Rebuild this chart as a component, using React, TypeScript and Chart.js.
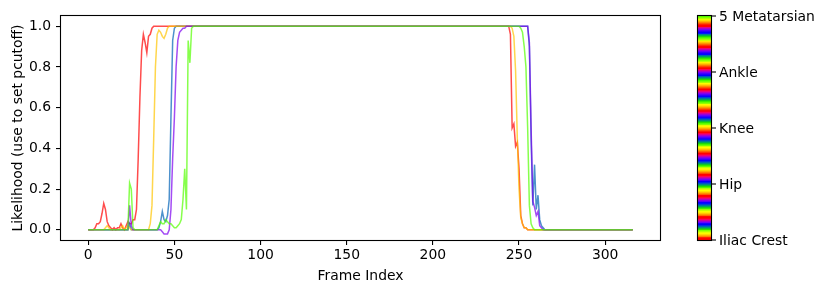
import React, { useEffect, useRef } from 'react';
import { Chart, registerables } from 'chart.js';

Chart.register(...registerables);

const bodyparts = ['Iliac Crest', 'Hip', 'Knee', 'Ankle', '5 Metatarsian'];
const xTickValues = [0, 50, 100, 150, 200, 250, 300];
const yTickValues = [0, 0.2, 0.4, 0.6, 0.8, 1.0];

const iliacCrest = [
  0, 0, 0, 0, 0.01, 0.03, 0.03, 0.04, 0.08, 0.13, 0.1, 0.04, 0.02, 0.01, 0, 0.01, 0, 0.01, 0.01, 0.03,
  0.01, 0, 0.02, 0.04, 0.03, 0.03, 0.05, 0.05, 0.1, 0.35, 0.65, 0.88, 0.96, 0.92, 0.87, 0.95, 0.96, 0.99, 1, 1,
  1, 1, 1, 1, 1, 1, 1, 1, 1, 1, 1, 1, 1, 1, 1, 1, 1, 1, 1, 1,
  1, 1, 1, 1, 1, 1, 1, 1, 1, 1, 1, 1, 1, 1, 1, 1, 1, 1, 1, 1,
  1, 1, 1, 1, 1, 1, 1, 1, 1, 1, 1, 1, 1, 1, 1, 1, 1, 1, 1, 1,
  1, 1, 1, 1, 1, 1, 1, 1, 1, 1, 1, 1, 1, 1, 1, 1, 1, 1, 1, 1,
  1, 1, 1, 1, 1, 1, 1, 1, 1, 1, 1, 1, 1, 1, 1, 1, 1, 1, 1, 1,
  1, 1, 1, 1, 1, 1, 1, 1, 1, 1, 1, 1, 1, 1, 1, 1, 1, 1, 1, 1,
  1, 1, 1, 1, 1, 1, 1, 1, 1, 1, 1, 1, 1, 1, 1, 1, 1, 1, 1, 1,
  1, 1, 1, 1, 1, 1, 1, 1, 1, 1, 1, 1, 1, 1, 1, 1, 1, 1, 1, 1,
  1, 1, 1, 1, 1, 1, 1, 1, 1, 1, 1, 1, 1, 1, 1, 1, 1, 1, 1, 1,
  1, 1, 1, 1, 1, 1, 1, 1, 1, 1, 1, 1, 1, 1, 1, 1, 1, 1, 1, 1,
  1, 1, 1, 1, 1, 0.96, 0.5, 0.52, 0.41, 0.43, 0.3, 0.07, 0.03, 0.01, 0.01, 0, 0, 0, 0, 0,
  0, 0, 0, 0, 0, 0, 0, 0, 0, 0, 0, 0, 0, 0, 0, 0, 0, 0, 0, 0,
  0, 0, 0, 0, 0, 0, 0, 0, 0, 0, 0, 0, 0, 0, 0, 0, 0, 0, 0, 0,
  0, 0, 0, 0, 0, 0, 0, 0, 0, 0, 0, 0, 0, 0, 0, 0, 0,
];

const hip = [
  0, 0, 0, 0, 0, 0, 0, 0, 0, 0, 0, 0, 0, 0, 0, 0, 0, 0, 0, 0,
  0, 0, 0, 0, 0.03, 0, 0, 0, 0, 0, 0, 0, 0, 0, 0, 0, 0, 0, 0, 0,
  0, 0.01, 0.04, 0.09, 0.05, 0.04, 0.07, 0.15, 0.55, 0.93, 0.99, 1, 1, 1, 1, 1, 1, 1, 1, 1,
  1, 1, 1, 1, 1, 1, 1, 1, 1, 1, 1, 1, 1, 1, 1, 1, 1, 1, 1, 1,
  1, 1, 1, 1, 1, 1, 1, 1, 1, 1, 1, 1, 1, 1, 1, 1, 1, 1, 1, 1,
  1, 1, 1, 1, 1, 1, 1, 1, 1, 1, 1, 1, 1, 1, 1, 1, 1, 1, 1, 1,
  1, 1, 1, 1, 1, 1, 1, 1, 1, 1, 1, 1, 1, 1, 1, 1, 1, 1, 1, 1,
  1, 1, 1, 1, 1, 1, 1, 1, 1, 1, 1, 1, 1, 1, 1, 1, 1, 1, 1, 1,
  1, 1, 1, 1, 1, 1, 1, 1, 1, 1, 1, 1, 1, 1, 1, 1, 1, 1, 1, 1,
  1, 1, 1, 1, 1, 1, 1, 1, 1, 1, 1, 1, 1, 1, 1, 1, 1, 1, 1, 1,
  1, 1, 1, 1, 1, 1, 1, 1, 1, 1, 1, 1, 1, 1, 1, 1, 1, 1, 1, 1,
  1, 1, 1, 1, 1, 1, 1, 1, 1, 1, 1, 1, 1, 1, 1, 1, 1, 1, 1, 1,
  1, 1, 1, 1, 1, 1, 1, 1, 1, 1, 1, 1, 1, 1, 1, 1, 0.9, 0.45, 0.12, 0.32,
  0.1, 0.17, 0.05, 0.02, 0.01, 0, 0, 0, 0, 0, 0, 0, 0, 0, 0, 0, 0, 0, 0, 0,
  0, 0, 0, 0, 0, 0, 0, 0, 0, 0, 0, 0, 0, 0, 0, 0, 0, 0, 0, 0,
  0, 0, 0, 0, 0, 0, 0, 0, 0, 0, 0, 0, 0, 0, 0, 0, 0,
];

const knee = [
  0, 0, 0, 0, 0, 0, 0, 0, 0, 0, 0.01, 0.02, 0.01, 0, 0, 0, 0, 0, 0, 0.01,
  0.02, 0, 0.01, 0.02, 0.01, 0, 0, 0, 0, 0, 0, 0, 0, 0, 0, 0, 0.03, 0.12, 0.45, 0.8,
  0.96, 0.98, 0.97, 0.95, 0.94, 0.96, 0.99, 1, 1, 1, 1, 1, 1, 1, 1, 1, 1, 1, 1, 1,
  1, 1, 1, 1, 1, 1, 1, 1, 1, 1, 1, 1, 1, 1, 1, 1, 1, 1, 1, 1,
  1, 1, 1, 1, 1, 1, 1, 1, 1, 1, 1, 1, 1, 1, 1, 1, 1, 1, 1, 1,
  1, 1, 1, 1, 1, 1, 1, 1, 1, 1, 1, 1, 1, 1, 1, 1, 1, 1, 1, 1,
  1, 1, 1, 1, 1, 1, 1, 1, 1, 1, 1, 1, 1, 1, 1, 1, 1, 1, 1, 1,
  1, 1, 1, 1, 1, 1, 1, 1, 1, 1, 1, 1, 1, 1, 1, 1, 1, 1, 1, 1,
  1, 1, 1, 1, 1, 1, 1, 1, 1, 1, 1, 1, 1, 1, 1, 1, 1, 1, 1, 1,
  1, 1, 1, 1, 1, 1, 1, 1, 1, 1, 1, 1, 1, 1, 1, 1, 1, 1, 1, 1,
  1, 1, 1, 1, 1, 1, 1, 1, 1, 1, 1, 1, 1, 1, 1, 1, 1, 1, 1, 1,
  1, 1, 1, 1, 1, 1, 1, 1, 1, 1, 1, 1, 1, 1, 1, 1, 1, 1, 1, 1,
  1, 1, 1, 1, 1, 1, 0.99, 0.95, 0.78, 0.45, 0.2, 0.06, 0.03, 0.01, 0.01, 0, 0, 0, 0, 0,
  0, 0, 0, 0, 0, 0, 0, 0, 0, 0, 0, 0, 0, 0, 0, 0, 0, 0, 0, 0,
  0, 0, 0, 0, 0, 0, 0, 0, 0, 0, 0, 0, 0, 0, 0, 0, 0, 0, 0, 0,
  0, 0, 0, 0, 0, 0, 0, 0, 0, 0, 0, 0, 0, 0, 0, 0, 0,
];

const ankle = [
  0, 0, 0, 0, 0, 0, 0, 0, 0, 0, 0, 0, 0, 0, 0, 0, 0, 0, 0, 0,
  0, 0, 0, 0, 0.12, 0.02, 0, 0, 0, 0, 0, 0, 0, 0, 0, 0, 0, 0, 0, 0,
  0, 0, 0, -0.01, -0.02, -0.02, -0.02, 0, 0.1, 0.35, 0.55, 0.8, 0.93, 0.97, 0.98, 0.99, 0.99, 1, 1, 1,
  1, 1, 1, 1, 1, 1, 1, 1, 1, 1, 1, 1, 1, 1, 1, 1, 1, 1, 1, 1,
  1, 1, 1, 1, 1, 1, 1, 1, 1, 1, 1, 1, 1, 1, 1, 1, 1, 1, 1, 1,
  1, 1, 1, 1, 1, 1, 1, 1, 1, 1, 1, 1, 1, 1, 1, 1, 1, 1, 1, 1,
  1, 1, 1, 1, 1, 1, 1, 1, 1, 1, 1, 1, 1, 1, 1, 1, 1, 1, 1, 1,
  1, 1, 1, 1, 1, 1, 1, 1, 1, 1, 1, 1, 1, 1, 1, 1, 1, 1, 1, 1,
  1, 1, 1, 1, 1, 1, 1, 1, 1, 1, 1, 1, 1, 1, 1, 1, 1, 1, 1, 1,
  1, 1, 1, 1, 1, 1, 1, 1, 1, 1, 1, 1, 1, 1, 1, 1, 1, 1, 1, 1,
  1, 1, 1, 1, 1, 1, 1, 1, 1, 1, 1, 1, 1, 1, 1, 1, 1, 1, 1, 1,
  1, 1, 1, 1, 1, 1, 1, 1, 1, 1, 1, 1, 1, 1, 1, 1, 1, 1, 1, 1,
  1, 1, 1, 1, 1, 1, 1, 1, 1, 1, 1, 1, 1, 1, 1, 1, 0.92, 0.5, 0.14, 0.11,
  0.07, 0.09, 0.02, 0.01, 0, 0, 0, 0, 0, 0, 0, 0, 0, 0, 0, 0, 0, 0, 0, 0,
  0, 0, 0, 0, 0, 0, 0, 0, 0, 0, 0, 0, 0, 0, 0, 0, 0, 0, 0, 0,
  0, 0, 0, 0, 0, 0, 0, 0, 0, 0, 0, 0, 0, 0, 0, 0, 0,
];

const metatarsian5 = [
  0, 0, 0, 0, 0, 0, 0, 0, 0, 0, 0, 0, 0, 0, 0, 0, 0, 0, 0, 0,
  0, 0, 0, 0, 0.23, 0.2, 0.01, 0, 0, 0, 0, 0, 0, 0, 0, 0, 0, 0, 0, 0,
  0, 0.02, 0.04, 0.03, 0.03, 0.05, 0.04, 0.03, 0.03, 0.02, 0.01, 0.01, 0.02, 0.03, 0.05, 0.15, 0.3, 0.1, 0.93, 0.82,
  0.99, 1, 1, 1, 1, 1, 1, 1, 1, 1, 1, 1, 1, 1, 1, 1, 1, 1, 1, 1,
  1, 1, 1, 1, 1, 1, 1, 1, 1, 1, 1, 1, 1, 1, 1, 1, 1, 1, 1, 1,
  1, 1, 1, 1, 1, 1, 1, 1, 1, 1, 1, 1, 1, 1, 1, 1, 1, 1, 1, 1,
  1, 1, 1, 1, 1, 1, 1, 1, 1, 1, 1, 1, 1, 1, 1, 1, 1, 1, 1, 1,
  1, 1, 1, 1, 1, 1, 1, 1, 1, 1, 1, 1, 1, 1, 1, 1, 1, 1, 1, 1,
  1, 1, 1, 1, 1, 1, 1, 1, 1, 1, 1, 1, 1, 1, 1, 1, 1, 1, 1, 1,
  1, 1, 1, 1, 1, 1, 1, 1, 1, 1, 1, 1, 1, 1, 1, 1, 1, 1, 1, 1,
  1, 1, 1, 1, 1, 1, 1, 1, 1, 1, 1, 1, 1, 1, 1, 1, 1, 1, 1, 1,
  1, 1, 1, 1, 1, 1, 1, 1, 1, 1, 1, 1, 1, 1, 1, 1, 1, 1, 1, 1,
  1, 1, 1, 1, 1, 1, 1, 1, 1, 1, 1, 0.99, 0.97, 0.9, 0.8, 0.5, 0.12, 0.03, 0.01, 0,
  0, 0, 0, 0, 0, 0, 0, 0, 0, 0, 0, 0, 0, 0, 0, 0, 0, 0, 0, 0,
  0, 0, 0, 0, 0, 0, 0, 0, 0, 0, 0, 0, 0, 0, 0, 0, 0, 0, 0, 0,
  0, 0, 0, 0, 0, 0, 0, 0, 0, 0, 0, 0, 0, 0, 0, 0, 0,
];

const seriesValues = [iliacCrest, hip, knee, ankle, metatarsian5];
const LINE_ALPHA = 0.7;

// matplotlib "prism" colormap
function prism(x: number): [number, number, number] {
  const c = (v: number) => Math.max(0, Math.min(1, v));
  const r = c(0.75 * Math.sin((x * 20.9 + 0.25) * Math.PI) + 0.67);
  const g = c(0.75 * Math.sin((x * 20.9 - 0.25) * Math.PI) + 0.33);
  const b = c(-1.1 * Math.sin(x * 20.9 * Math.PI));
  return [r, g, b];
}
const rgba = (rgb: [number, number, number], a: number) =>
  `rgba(${Math.round(rgb[0] * 255)},${Math.round(rgb[1] * 255)},${Math.round(rgb[2] * 255)},${a})`;

const FONT = 'DejaVu Sans';
const FS = 13.9;

const boxPlugin = {
  id: 'boxAndColorbar',
  afterDraw(chart: any) {
    const { ctx, chartArea: a } = chart;
    ctx.save();
    ctx.strokeStyle = '#000';
    ctx.lineWidth = 1.1;
    ctx.strokeRect(a.left - 0.5, a.top - 0.5, a.right - a.left + 1, a.bottom - a.top + 1);

    // colorbar (prism, 256-entry LUT)
    const x0 = a.right + 38;
    const w = 13;
    const top = a.top;
    const bottom = a.bottom;
    const h = bottom - top;
    for (let y = top; y < bottom; y++) {
      const t = (bottom - (y + 0.5)) / h;
      const idx = Math.min(255, Math.floor(t * 256));
      ctx.fillStyle = rgba(prism(idx / 255), 1);
      ctx.fillRect(x0, y, w, 1);
    }
    ctx.strokeRect(x0 - 0.5, top - 0.5, w + 1, h + 1);

    ctx.fillStyle = '#000';
    ctx.font = `${FS}px "${FONT}"`;
    ctx.textBaseline = 'middle';
    ctx.textAlign = 'left';
    const n = bodyparts.length;
    bodyparts.forEach((name, k) => {
      const y = bottom - (k / (n - 1)) * h;
      ctx.beginPath();
      ctx.moveTo(x0 + w, y);
      ctx.lineTo(x0 + w + 5, y);
      ctx.stroke();
      ctx.fillText(name, x0 + w + 8, y + 1);
    });
    ctx.restore();
  },
};

export default function App() {
  const ref = useRef<HTMLCanvasElement | null>(null);

  useEffect(() => {
    if (!ref.current) return;
    const n = seriesValues.length;
    const datasets = seriesValues.map((vals, s) => ({
      label: bodyparts[s],
      data: vals.map((v, i) => ({ x: i, y: v })),
      borderColor: rgba(prism(s / (n - 1)), LINE_ALPHA),
      borderWidth: 1.5,
      pointRadius: 0,
      tension: 0,
      fill: false,
      order: n - 1 - s,
    }));
    const chart = new Chart(ref.current, {
      type: 'line',
      data: { datasets },
      plugins: [boxPlugin],
      options: {
        animation: false,
        responsive: false,
        devicePixelRatio: 1,
        layout: { padding: { top: 16, right: 163, bottom: 0, left: 0 } },
        plugins: { legend: { display: false }, tooltip: { enabled: false } },
        scales: {
          x: {
            type: 'linear',
            min: -15.8,
            max: 331.8,
            afterBuildTicks: (scale: any) => {
              scale.ticks = xTickValues.map((v) => ({ value: v }));
            },
            afterFit: (scale: any) => {
              scale.height = 53;
            },
            ticks: {
              color: '#000',
              font: { family: FONT, size: FS },
              padding: 2,
              maxRotation: 0,
              autoSkip: false,
              callback: (v: any) => String(v),
            },
            grid: {
              display: true,
              drawOnChartArea: false,
              drawTicks: true,
              tickLength: 5,
              color: '#000',
              lineWidth: 1.1,
            },
            border: { display: false },
            title: {
              display: true,
              text: 'Frame Index',
              color: '#000',
              font: { family: FONT, size: FS },
              padding: { top: 0, bottom: 8 },
            },
          },
          y: {
            type: 'linear',
            min: -0.05,
            max: 1.05,
            afterBuildTicks: (scale: any) => {
              scale.ticks = yTickValues.map((v) => ({ value: v }));
            },
            afterFit: (scale: any) => {
              scale.width = 61;
            },
            ticks: {
              color: '#000',
              font: { family: FONT, size: FS },
              padding: 5,
              autoSkip: false,
              callback: (v: any) => Number(v).toFixed(1),
            },
            grid: {
              display: true,
              drawOnChartArea: false,
              drawTicks: true,
              tickLength: 5,
              color: '#000',
              lineWidth: 1.1,
            },
            border: { display: false },
            title: {
              display: true,
              text: 'Likelihood (use to set pcutoff)',
              color: '#000',
              font: { family: FONT, size: FS },
              padding: { top: 10, bottom: 0 },
            },
          },
        },
      },
    });
    return () => chart.destroy();
  }, []);

  return (
    <div style={{ position: 'absolute', left: 0, top: 0, width: 823, height: 293, background: '#fff' }}>
      <canvas ref={ref} width={823} height={293} style={{ width: 823, height: 293, display: 'block' }} />
    </div>
  );
}
